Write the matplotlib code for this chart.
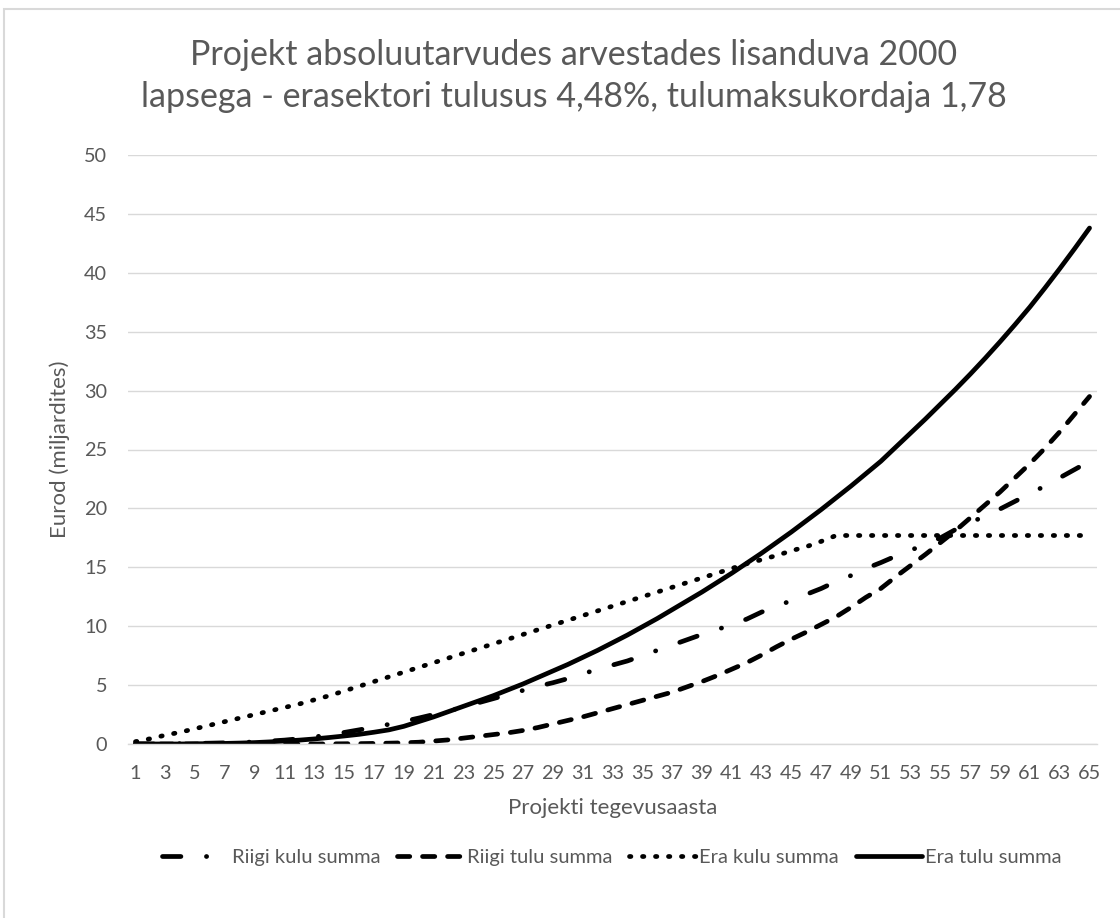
import matplotlib
matplotlib.use("Agg")
import matplotlib.pyplot as plt
from matplotlib.patches import Rectangle

plt.rcParams['font.family'] = ['Lato', 'DejaVu Sans']

# Project years (categories)
years = list(range(1, 66))

# State expenditure sum (billions of euros)
riigi_kulu = [0.0, 0.0, 0.02, 0.03, 0.05, 0.07, 0.1, 0.13, 0.18, 0.25,
              0.33, 0.45, 0.6, 0.78, 0.98, 1.2, 1.43, 1.67, 1.92, 2.2,
              2.5, 2.8, 3.15, 3.5, 3.85, 4.2, 4.55, 4.9, 5.2, 5.55,
              5.95, 6.35, 6.7, 7.05, 7.5, 7.95, 8.4, 8.85, 9.3, 9.7,
              10.15, 10.6, 11.2, 11.65, 12.2, 12.7, 13.2, 13.8, 14.3, 14.9,
              15.4, 15.95, 16.45, 16.95, 17.5, 18.2, 18.8, 19.35, 19.95, 20.6,
              21.25, 21.9, 22.6, 23.3, 24.0]

# State revenue sum
riigi_tulu = [0.0, 0.0, 0.0, 0.0, 0.0, 0.0, 0.0, 0.0, 0.0, 0.0,
              0.0, 0.0, 0.0, 0.01, 0.02, 0.03, 0.05, 0.07, 0.1, 0.15,
              0.25, 0.35, 0.5, 0.65, 0.8, 0.95, 1.15, 1.4, 1.7, 2.0,
              2.3, 2.65, 3.0, 3.35, 3.7, 4.05, 4.4, 4.85, 5.3, 5.8,
              6.35, 6.9, 7.55, 8.25, 8.9, 9.5, 10.15, 10.8, 11.6, 12.45,
              13.2, 14.2, 15.15, 16.1, 17.1, 18.1, 19.2, 20.3, 21.4, 22.6,
              23.8, 25.1, 26.5, 28.0, 29.5]

# Private sector expenditure sum
era_kulu = [0.2, 0.45, 0.75, 1.0, 1.3, 1.6, 1.9, 2.2, 2.5, 2.8,
            3.1, 3.4, 3.75, 4.1, 4.5, 4.9, 5.3, 5.7, 6.1, 6.5,
            6.9, 7.3, 7.7, 8.1, 8.5, 8.9, 9.3, 9.7, 10.1, 10.5,
            10.9, 11.3, 11.7, 12.1, 12.5, 12.9, 13.3, 13.7, 14.1, 14.5,
            14.9, 15.3, 15.65, 16.0, 16.4, 16.75, 17.2, 17.7, 17.7, 17.7,
            17.7, 17.7, 17.7, 17.7, 17.7, 17.7, 17.7, 17.7, 17.7, 17.7,
            17.7, 17.7, 17.7, 17.7, 17.7]

# Private sector revenue sum
era_tulu = [0.0, 0.0, 0.0, 0.0, 0.02, 0.03, 0.05, 0.08, 0.12, 0.18,
            0.25, 0.33, 0.43, 0.55, 0.68, 0.82, 1.0, 1.2, 1.5, 1.9,
            2.3, 2.75, 3.2, 3.65, 4.1, 4.6, 5.1, 5.65, 6.2, 6.75,
            7.35, 7.95, 8.6, 9.25, 9.95, 10.65, 11.4, 12.15, 12.9, 13.7,
            14.5, 15.35, 16.2, 17.1, 18.0, 18.95, 19.9, 20.9, 21.9, 22.95,
            24.0, 25.2, 26.4, 27.6, 28.85, 30.1, 31.4, 32.75, 34.15, 35.6,
            37.1, 38.7, 40.35, 42.05, 43.8]

series_labels = ["Riigi kulu summa", "Riigi tulu summa", "Era kulu summa", "Era tulu summa"]
title = "Projekt absoluutarvudes arvestades lisanduva 2000\nlapsega - erasektori tulusus 4,48%, tulumaksukordaja 1,78"
y_ticks = [0, 5, 10, 15, 20, 25, 30, 35, 40, 45, 50]

TEXT = "#595959"
GRID = "#d9d9d9"

fig = plt.figure(figsize=(11.2, 9.18), dpi=100)
fig.patch.set_facecolor("white")

# chart-area border
fig.add_artist(Rectangle((4 / 1120, -0.05), 1.2, 1 - 9 / 918 + 0.05,
                         transform=fig.transFigure, fill=False,
                         edgecolor=GRID, linewidth=1.5))

ax = fig.add_axes([128 / 1120, 1 - 744 / 918, (1097 - 128) / 1120, (744 - 155) / 918])

lw = 3.4
styles = [
    dict(linestyle=(0, (3.9, 5.4, 0.05, 5.4))),
    dict(linestyle=(0, (2.6, 2.7))),
    dict(linestyle=(0, (0.3, 2.45))),
    dict(linestyle="-"),
]
data = [riigi_kulu, riigi_tulu, era_kulu, era_tulu]
for vals, lab, st in zip(data, series_labels, styles):
    ax.plot(years, vals, color="black", linewidth=lw, label=lab,
            dash_capstyle="round", solid_capstyle="round",
            solid_joinstyle="round", **st)

ax.set_xlim(0.5, 65.5)
ax.set_ylim(0, 50)
ax.set_yticks(y_ticks)
ax.set_xticks(years[::2])
ax.set_xticklabels([str(y) for y in years[::2]])
ax.grid(axis="y", color=GRID, linewidth=1.0)
ax.set_axisbelow(True)
for s in ["top", "right", "left"]:
    ax.spines[s].set_visible(False)
ax.spines["bottom"].set_color(GRID)
ax.spines["bottom"].set_linewidth(1.0)
ax.tick_params(axis="both", length=0, colors=TEXT, labelsize=14.3)
ax.tick_params(axis="y", pad=15)
ax.tick_params(axis="x", pad=15)

ax.set_xlabel("Projekti tegevusaasta", color=TEXT, fontsize=16, labelpad=12)
ax.set_ylabel("Eurod (miljardites)", color=TEXT, fontsize=16, labelpad=10)

fig.text(0.512, 1 - 76 / 918, title, ha="center", va="center",
         fontsize=24.5, color=TEXT, linespacing=1.35)

leg = fig.legend(loc="center", bbox_to_anchor=(612 / 1120, 1 - 857 / 918),
                 ncol=4, frameon=False, fontsize=14.5, handlelength=3.3,
                 handletextpad=0.15, columnspacing=0.85)
for t in leg.get_texts():
    t.set_color(TEXT)

fig.savefig("out.png", dpi=100, facecolor="white")
